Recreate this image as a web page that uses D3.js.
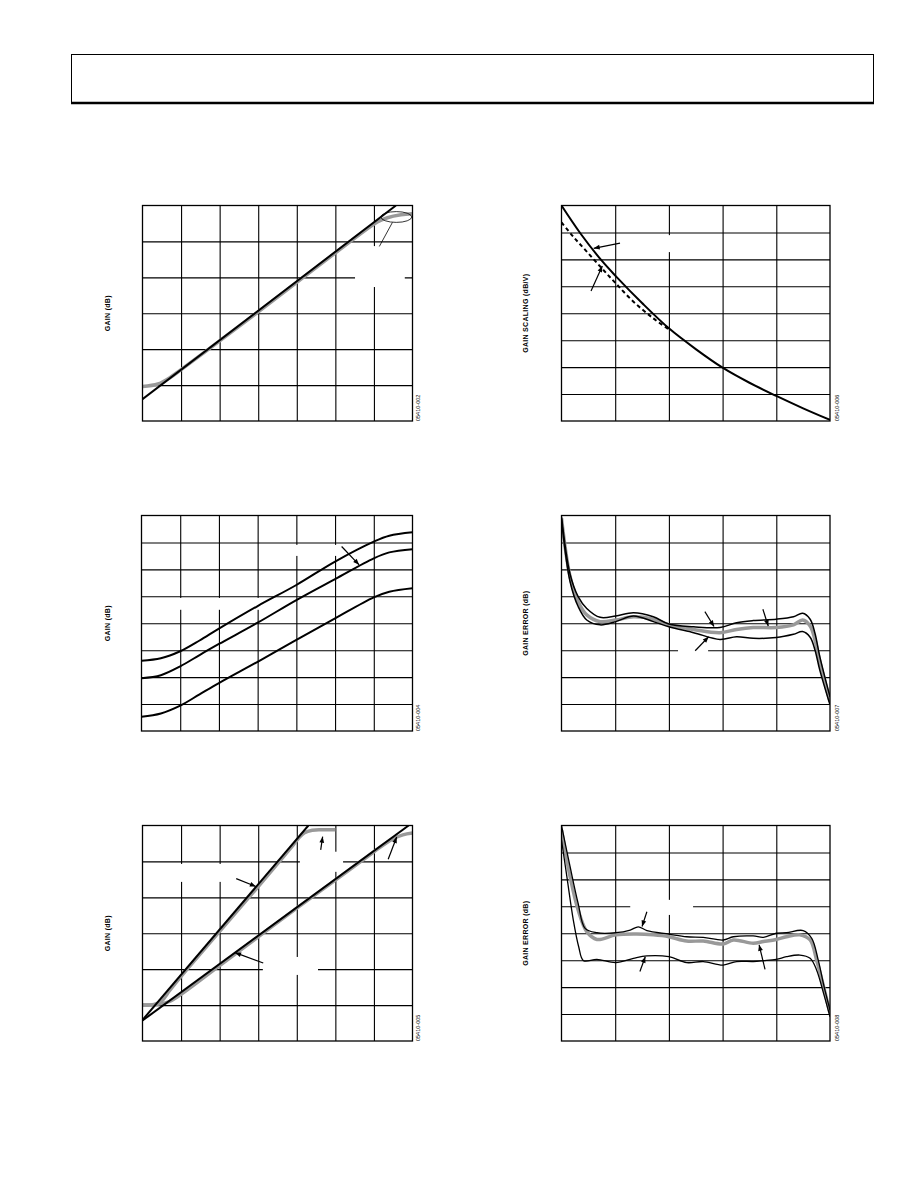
<!DOCTYPE html>
<html><head><meta charset="utf-8">
<script src="https://cdn.jsdelivr.net/npm/d3@7"></script>
<style>body{margin:0;background:#fff}svg{display:block}</style>
</head><body>
<script>
// ---------- DATA (grid units; tick labels were blank in the source) ----------
// Panel 1: GAIN (dB) – 7 x 6 grid
const p1Black = [[0,0.61],[6.57,6.0]];
const p1Gray = [[0,0.96],[0.4,1.03],[0.7,1.2],[1,1.43],[2,2.23],[3,3.04],[4,3.86],[5,4.68],[5.8,5.33],[6.1,5.55],[6.35,5.66],[6.7,5.74],[7,5.77]];
const p1Ellipse = [[6.58,5.68,0.40,0.15]];
const p1Leader = [[6.48,5.53,6.14,4.86]];
const p1Boxes = [[5.51,3.73,6.80,4.87]];

// Panel 2: GAIN SCALING (dB/V) – 5 x 8 grid
const p2Solid = [[0,8.0],[0.35,6.97],[0.75,5.95],[1.01,5.38],[1.5,4.38],[2.0,3.44],[2.5,2.67],[3.0,1.98],[3.5,1.42],[4.0,0.93],[4.5,0.47],[5.0,0.04]];
const p2Dashed = [[0,7.37],[0.22,6.84],[0.47,6.29],[0.75,5.67],[1.01,5.11],[1.34,4.43],[1.71,3.81],[2.0,3.40]];
const p2Arrows = [[1.09,6.60,0.60,6.41],[0.55,4.83,0.76,5.75]];
const p2Boxes = [[1.24,6.27,2.58,6.90]];

// Panel 3: GAIN (dB) – 7 x 8 grid, three curves
const p3CurveA = [[0,2.61],[0.5,2.70],[1,2.96],[1.5,3.36],[2,3.80],[3,4.64],[4,5.42],[5,6.29],[6,7.03],[6.4,7.25],[7,7.38]];
const p3CurveB = [[0,1.96],[0.5,2.07],[1,2.40],[1.5,2.82],[2,3.23],[3,4.02],[4,4.86],[5,5.64],[6,6.41],[6.4,6.63],[7,6.75]];
const p3CurveC = [[0,0.53],[0.5,0.65],[1,0.94],[1.5,1.36],[2,1.78],[3,2.57],[4,3.38],[5,4.18],[6,4.96],[6.4,5.17],[7,5.30]];
const p3Arrows = [[5.17,6.85,5.62,6.17]];
const p3Boxes = [[3.22,6.50,5.72,6.91],[0.74,4.50,3.22,4.94]];

// Panel 4: GAIN ERROR (dB) – 5 x 8 grid
const p4Upper = [[0,7.96],[0.16,5.82],[0.31,4.99],[0.47,4.55],[0.72,4.22],[1.01,4.27],[1.34,4.39],[1.71,4.24],[2.0,3.97],[2.46,3.87],[2.95,3.84],[3.26,4.02],[3.57,4.10],[4.0,4.15],[4.32,4.24],[4.49,4.37],[4.63,4.15],[4.72,3.63],[4.81,2.76],[5.0,1.27]];
const p4Mid = [[0,7.9],[0.16,5.73],[0.31,4.80],[0.47,4.31],[0.72,4.06],[1.01,4.12],[1.34,4.24],[1.71,4.15],[2.0,3.94],[2.46,3.77],[2.95,3.65],[3.26,3.77],[3.57,3.84],[4.0,3.84],[4.32,3.94],[4.49,4.12],[4.63,3.90],[4.72,3.38],[4.81,2.57],[5.0,1.09]];
const p4Lower = [[0,7.86],[0.16,5.54],[0.31,4.62],[0.47,4.12],[0.72,3.94],[1.01,4.06],[1.34,4.27],[1.71,4.06],[2.0,3.87],[2.46,3.65],[2.95,3.40],[3.26,3.50],[3.57,3.44],[4.0,3.47],[4.32,3.59],[4.49,3.69],[4.63,3.48],[4.72,3.01],[4.81,2.26],[5.0,0.97]];
const p4Arrows = [[2.67,4.43,2.84,3.88],[3.75,4.52,3.85,3.90],[2.49,2.98,2.74,3.50]];
const p4Boxes = [[2.17,2.75,2.73,3.20]];

// Panel 5: GAIN (dB) – 7 x 6 grid
const p5Black1 = [[0,0.585],[4.30,6.0]];
const p5Black2 = [[0,0.57],[6.9,6.0]];
const p5Gray1 = [[0,1.0],[0.3,1.02],[0.5,1.12],[0.7,1.4],[1,1.8],[2,3.05],[3,4.3],[3.9,5.45],[4.05,5.65],[4.2,5.8],[4.4,5.87],[4.7,5.88],[5.0,5.88]];
const p5Gray2 = [[0,1.0],[0.4,1.02],[0.7,1.1],[1,1.3],[2,2.1],[3,2.9],[4,3.7],[5,4.48],[6,5.27],[6.3,5.5],[6.5,5.63],[6.75,5.74],[7,5.79]];
const p5Arrows = [[4.62,5.32,4.67,5.69],[6.37,5.06,6.59,5.68],[2.43,4.52,2.94,4.30],[3.13,2.17,2.40,2.46]];
const p5Boxes = [[4.08,4.71,5.20,5.27],[0.72,4.43,2.32,4.93],[3.12,1.84,4.55,2.34]];

// Panel 6: GAIN ERROR (dB) – 5 x 8 grid
const p6Upper = [[0,8.0],[0.16,6.47],[0.31,5.11],[0.44,4.18],[0.66,4.02],[1.01,4.02],[1.28,4.12],[1.43,4.24],[1.59,4.10],[2.0,3.97],[2.33,3.87],[2.64,3.85],[3.01,3.75],[3.2,3.87],[3.57,3.90],[3.76,3.85],[4.0,4.0],[4.19,4.02],[4.5,4.10],[4.66,3.81],[4.78,3.01],[4.89,2.02],[5.0,1.15]];
const p6Mid = [[0,7.83],[0.16,6.10],[0.31,4.86],[0.47,4.06],[0.66,3.77],[1.01,3.94],[1.40,3.97],[1.71,3.94],[2.0,3.87],[2.33,3.71],[2.64,3.71],[3.01,3.60],[3.2,3.75],[3.57,3.63],[3.76,3.69],[4.0,3.77],[4.19,3.87],[4.44,3.94],[4.63,3.75],[4.75,3.01],[4.88,2.02],[5.0,1.03]];
const p6Lower = [[0,7.46],[0.10,6.10],[0.22,4.49],[0.32,3.50],[0.41,2.98],[0.66,3.03],[1.01,2.91],[1.34,3.07],[1.59,3.16],[2.0,3.13],[2.33,2.91],[2.64,2.95],[3.01,2.82],[3.26,2.95],[3.57,2.95],[3.76,2.98],[4.0,3.03],[4.19,3.13],[4.44,3.19],[4.63,3.07],[4.75,2.64],[4.88,1.77],[5.0,0.90]];
const p6Arrows = [[1.59,4.80,1.50,4.25],[1.46,2.58,1.56,3.13],[3.79,2.66,3.68,3.57]];
const p6Boxes = [[1.28,4.68,2.45,5.24]];

const yTitles = ["GAIN (dB)","GAIN SCALING (dB/V)","GAIN (dB)","GAIN ERROR (dB)","GAIN (dB)","GAIN ERROR (dB)"];
const figCodes = ["05410-002","05410-006","05410-004","05410-007","05410-005","05410-008"];

// ---------- DRAWING ----------
const GRAY = "#999";
const svg = d3.select("body").append("svg").attr("width",918).attr("height",1188);
const defs = svg.append("defs");
defs.append("marker").attr("id","ah").attr("markerUnits","userSpaceOnUse")
  .attr("viewBox","0 0 10 10").attr("refX",10).attr("refY",5)
  .attr("markerWidth",8).attr("markerHeight",6).attr("orient","auto")
  .append("path").attr("d","M0,1 L10,5 L0,9 Z").attr("fill","#000");

// header box
svg.append("rect").attr("x",71.5).attr("y",54.5).attr("width",802).attr("height",49)
  .attr("fill","none").attr("stroke","#000").attr("stroke-width",1);
svg.append("line").attr("x1",71).attr("x2",874).attr("y1",103).attr("y2",103)
  .attr("stroke","#000").attr("stroke-width",2.5);

const layouts = [
  {L:142.5,R:412.5,T:205.5,B:421, nx:7, ny:6, tx:110, cx:420},
  {L:561.5,R:830, T:205.5,B:421, nx:5, ny:8, tx:528, cx:839},
  {L:141.5,R:412.5,T:515.5,B:731, nx:7, ny:8, tx:110, cx:420},
  {L:561.5,R:830, T:515.5,B:731, nx:5, ny:8, tx:528, cx:839},
  {L:142.5,R:412.5,T:825.5,B:1041, nx:7, ny:6, tx:110, cx:420},
  {L:561.5,R:830, T:825.5,B:1041, nx:5, ny:8, tx:528, cx:839}
];

function panel(i, series, arrows, boxes, extra){
  const lay = layouts[i];
  const x = d3.scaleLinear().domain([0,lay.nx]).range([lay.L,lay.R]);
  const y = d3.scaleLinear().domain([0,lay.ny]).range([lay.B,lay.T]);
  const g = svg.append("g");
  const h = lay.B-lay.T, w = lay.R-lay.L;
  const gx = g.append("g").attr("transform",`translate(0,${lay.B})`)
    .call(d3.axisBottom(x).tickValues(d3.range(1,lay.nx)).tickSize(-h).tickFormat(()=>""));
  const gy = g.append("g").attr("transform",`translate(${lay.L},0)`)
    .call(d3.axisLeft(y).tickValues(d3.range(1,lay.ny)).tickSize(-w).tickFormat(()=>""));
  [gx,gy].forEach(a=>{a.select(".domain").remove();
    a.selectAll("line").attr("stroke","#000").attr("stroke-width",1.1);});
  g.selectAll("rect.box").data(boxes).join("rect").attr("class","box")
    .attr("x",d=>x(d[0])).attr("y",d=>y(d[3]))
    .attr("width",d=>x(d[2])-x(d[0])).attr("height",d=>y(d[1])-y(d[3])).attr("fill","#fff");
  const cid = "clip"+i;
  defs.append("clipPath").attr("id",cid).append("rect")
    .attr("x",lay.L).attr("y",lay.T).attr("width",w).attr("height",h);
  const cg = g.append("g").attr("clip-path",`url(#${cid})`);
  series.forEach(s=>{
    const line = d3.line().x(d=>x(d[0])).y(d=>y(d[1]))
      .curve(s.data.length>2 ? d3.curveCatmullRom.alpha(0.5) : d3.curveLinear);
    cg.append("path").attr("d",line(s.data)).attr("fill","none")
      .attr("stroke",s.color).attr("stroke-width",s.width)
      .attr("stroke-dasharray",s.dash||null).attr("stroke-linejoin","round");
  });
  if(extra) extra(g,x,y);
  g.selectAll("line.arr").data(arrows).join("line").attr("class","arr")
    .attr("x1",d=>x(d[0])).attr("y1",d=>y(d[1])).attr("x2",d=>x(d[2])).attr("y2",d=>y(d[3]))
    .attr("stroke","#000").attr("stroke-width",1.2).attr("marker-end","url(#ah)");
  g.append("rect").attr("x",lay.L).attr("y",lay.T).attr("width",w).attr("height",h)
    .attr("fill","none").attr("stroke","#000").attr("stroke-width",1.3);
  g.append("text").attr("transform",`translate(${lay.tx},${(lay.T+lay.B)/2}) rotate(-90)`)
    .attr("text-anchor","middle").attr("font-family","Liberation Sans, Arial, sans-serif")
    .attr("font-size",7).attr("font-weight","bold").attr("letter-spacing",0.3)
    .attr("fill","#000").text(yTitles[i]);
  g.append("text").attr("transform",`translate(${lay.cx},${lay.B}) rotate(-90)`)
    .attr("text-anchor","start").attr("font-family","Liberation Sans, Arial, sans-serif")
    .attr("font-size",5.5).attr("fill","#000").text(figCodes[i]);
}

panel(0,[{data:p1Gray,color:GRAY,width:3.5},{data:p1Black,color:"#000",width:2}],[],p1Boxes,
  (g,x,y)=>{
    g.selectAll("ellipse").data(p1Ellipse).join("ellipse")
      .attr("cx",d=>x(d[0])).attr("cy",d=>y(d[1]))
      .attr("rx",d=>x(d[0]+d[2])-x(d[0])).attr("ry",d=>y(d[1]-d[3])-y(d[1]))
      .attr("fill","none").attr("stroke","#000").attr("stroke-width",0.8);
    g.selectAll("line.ld").data(p1Leader).join("line").attr("class","ld")
      .attr("x1",d=>x(d[0])).attr("y1",d=>y(d[1])).attr("x2",d=>x(d[2])).attr("y2",d=>y(d[3]))
      .attr("stroke","#000").attr("stroke-width",0.8);
  });
panel(1,[{data:p2Dashed,color:"#000",width:2,dash:"4,3"},{data:p2Solid,color:"#000",width:2}],p2Arrows,p2Boxes);
panel(2,[{data:p3CurveA,color:"#000",width:2},{data:p3CurveB,color:"#000",width:2},{data:p3CurveC,color:"#000",width:2}],p3Arrows,p3Boxes);
panel(3,[{data:p4Mid,color:GRAY,width:3.5},{data:p4Upper,color:"#000",width:1.5},{data:p4Lower,color:"#000",width:1.5}],p4Arrows,p4Boxes);
panel(4,[{data:p5Gray1,color:GRAY,width:3.5},{data:p5Gray2,color:GRAY,width:3.5},{data:p5Black1,color:"#000",width:2},{data:p5Black2,color:"#000",width:2}],p5Arrows,p5Boxes);
panel(5,[{data:p6Mid,color:GRAY,width:3.5},{data:p6Upper,color:"#000",width:1.3},{data:p6Lower,color:"#000",width:1.3}],p6Arrows,p6Boxes);
</script>
</body></html>
